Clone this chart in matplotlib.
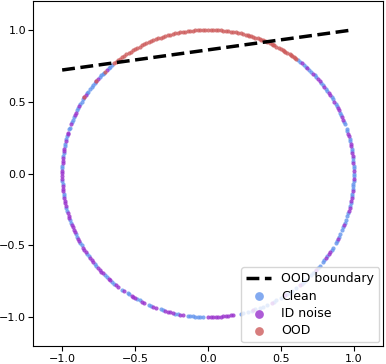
import numpy as np
import matplotlib
matplotlib.use("Agg")
import matplotlib.pyplot as plt

# angles (degrees) of the samples on the unit circle
clean_deg = [131, 132, 133, 135.5, 136, 137, 138, 141, 142, 143, 144, 145.5, 146,
             149, 150, 151, 153, 154, 157, 158, 159, 161.5, 162, 165, 166, 168, 169,
             172, 173, 177, 178, 183, 184, 188, 189, 194, 195, 199, 200, 205, 206,
             209, 210, 214, 215, 219, 220, 225, 226, 229, 230, 234, 236.5, 237, 241,
             242, 246, 247, 251, 252, 257, 258, 262, 263, 264, 265, 266, 267, 268,
             283, 284, 286, 287.5, 289, 291, 292, 294, 297, 298, 300, 303, 304, 305,
             307, 310, 311, 312, 315, 316, 317, 319, 320, 322, 323, 325, 328, 329,
             331, 332, 334, 335, 337, 338, 340, 341, 343, 344, 347, 348, 351, 352,
             354, 355, 356, 357, 359, 0, 2, 3, 5, 6, 9, 10, 13, 14, 17, 18, 20, 21,
             24, 25, 28, 29, 31, 32, 35, 36, 38, 39, 42, 43, 45, 46, 48, 49, 51, 52]
id_noise_deg = [134, 139, 140, 147, 148, 152, 155, 156, 160, 163.5, 164, 167, 170,
                171, 174, 175, 176, 179, 180, 181, 182, 185, 186, 187, 190, 191, 192,
                193, 196, 197, 198, 201, 202, 203, 204, 207, 208, 211, 212, 213, 216,
                217, 218, 221, 222, 223, 224, 227, 228, 231, 232, 235, 238.5, 239,
                240, 243, 244, 248, 249, 253, 254, 255, 256, 259, 260, 270, 271, 272,
                273, 274, 275, 276, 277, 278, 279, 280, 288, 296, 302, 309, 318, 324,
                326, 327, 333, 339, 345, 346, 349, 350, 353, 358, 1, 4, 7, 8, 11, 12,
                15, 16, 22, 23, 26, 27, 30, 33, 34, 37, 40, 41, 44, 47, 50]
ood_deg = [53, 53.5, 54, 55, 55.5, 56, 57, 58, 58.5, 59, 60, 61, 62, 63, 63.5, 64,
           65, 66, 67, 68, 68.5, 69, 70, 71, 72, 73, 73.5, 74, 75, 76, 77, 78, 79,
           80, 81, 82, 83, 84, 85, 86, 87, 88, 89, 90, 91, 92, 93, 94, 95, 96, 97,
           98, 99, 100, 101, 102, 103, 104, 105, 106, 107, 108, 109, 110, 111, 112,
           113, 114, 115, 116, 117, 118, 119, 120, 121, 122, 123, 124, 125, 126,
           127, 128, 129, 130, 135, 140, 148]

boundary_x = [-1.0, 1.0]
boundary_y = [0.72, 1.0]


def on_circle(deg):
    t = np.radians(deg)
    return np.cos(t), np.sin(t)


def main():
    fig = plt.figure(figsize=(3.86, 3.64), dpi=100)
    ax = fig.add_axes([33 / 386, 18 / 364, 350 / 386, 345 / 364])

    ax.plot(boundary_x, boundary_y, 'k--', lw=2.5, label='OOD boundary', zorder=3)

    x, y = on_circle(clean_deg)
    ax.scatter(x, y, s=9, c='cornflowerblue', alpha=0.8, lw=0, label='Clean')
    x, y = on_circle(id_noise_deg)
    ax.scatter(x, y, s=9, c='darkorchid', alpha=0.8, lw=0, label='ID noise')
    x, y = on_circle(ood_deg)
    ax.scatter(x, y, s=9, c='indianred', alpha=0.8, lw=0, label='OOD')

    ax.set_xlim(-1.2, 1.2)
    ax.set_ylim(-1.2, 1.2)
    ax.set_xticks([-1.0, -0.5, 0.0, 0.5, 1.0])
    ax.set_yticks([-1.0, -0.5, 0.0, 0.5, 1.0])
    ax.tick_params(axis='x', labelsize=8, pad=2.5)
    ax.tick_params(axis='y', labelsize=8, pad=1.5)

    ax.legend(loc='lower right', fontsize=9, borderaxespad=0.3, handlelength=2.0,
              markerscale=2.1, labelspacing=0.35)

    fig.savefig('out.png', dpi=100)


if __name__ == '__main__':
    main()
